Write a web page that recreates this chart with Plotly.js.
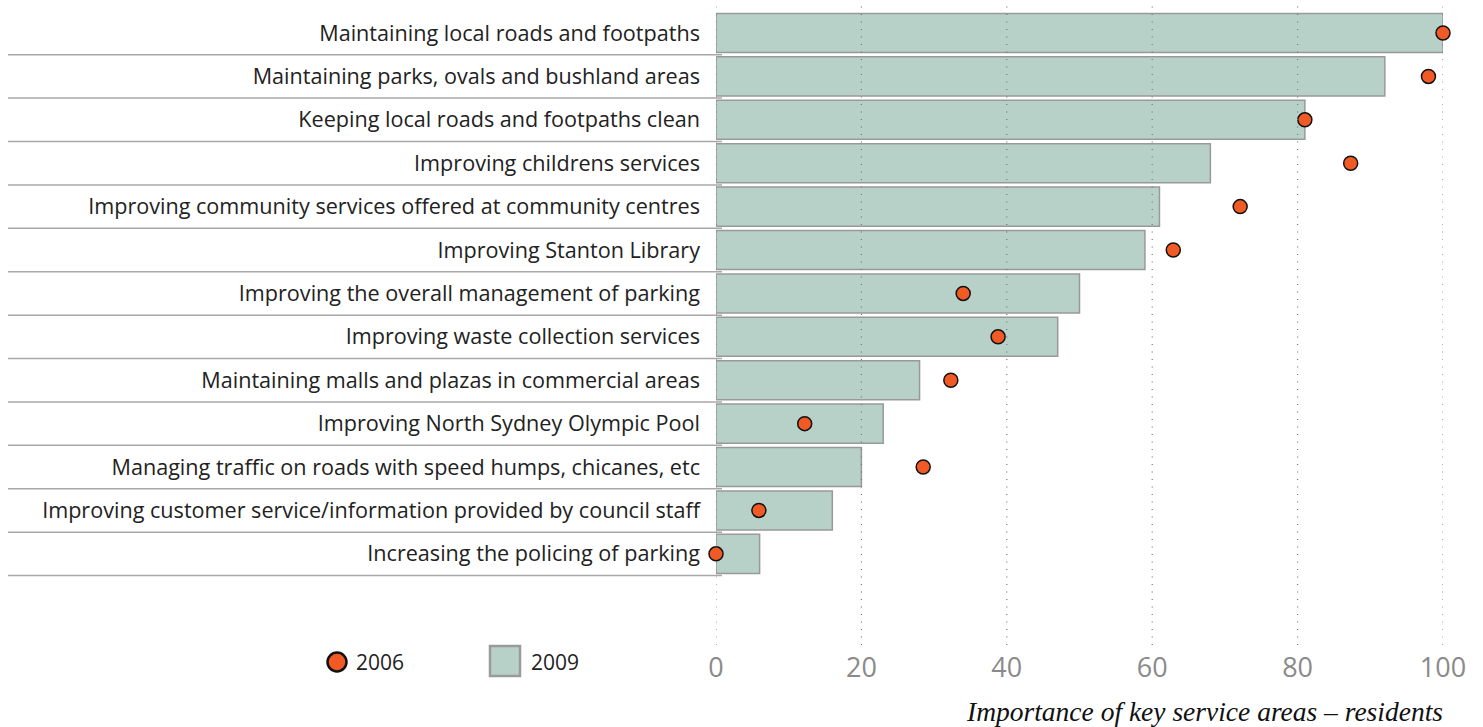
<!DOCTYPE html>
<html>
<head>
<meta charset="utf-8">
<script src="https://cdn.plot.ly/plotly-3.0.1.min.js"></script>
<style>html,body{margin:0;padding:0;background:#fff;}#chart{width:1483px;height:727px;}</style>
</head>
<body>
<div id="chart"></div>
<script>
const categories = [
  "Maintaining local roads and footpaths",
  "Maintaining parks, ovals and bushland areas",
  "Keeping local roads and footpaths clean",
  "Improving childrens services",
  "Improving community services offered at community centres",
  "Improving Stanton Library",
  "Improving the overall management of parking",
  "Improving waste collection services",
  "Maintaining malls and plazas in commercial areas",
  "Improving North Sydney Olympic Pool",
  "Managing traffic on roads with speed humps, chicanes, etc",
  "Improving customer service/information provided by council staff",
  "Increasing the policing of parking"
];
const values2009 = [100, 92, 81, 68, 61, 59, 50, 47, 28, 23, 20, 16, 6];
const values2006 = [100, 98, 81, 87.3, 72.1, 62.9, 34, 38.8, 32.3, 12.2, 28.5, 5.9, 0];
const xTicks = [0, 20, 40, 60, 80, 100];
const seriesNames = ["2006", "2009"];
const axisTitle = "Importance of key service areas \u2013 residents";

const rows = categories.map((c, i) => i);

const W = 1483, H = 727;
const M = {l: 716, r: 40, t: 6, b: 82};
const plotW = W - M.l - M.r, plotH = H - M.t - M.b;
const px2paperX = px => (px - M.l) / plotW;
const px2paperY = py => (H - M.b - py) / plotH;

const barColor = "#b7d1c8";
const dotColor = "#f15a24";

const traces = [
  {
    type: "bar", orientation: "h", name: seriesNames[1],
    x: values2009, y: rows, width: 0.9,
    marker: {color: barColor, line: {color: "#999999", width: 1.5}},
    showlegend: false, hoverinfo: "x+y"
  },
  {
    type: "scatter", mode: "markers", name: seriesNames[0],
    x: values2006, y: rows, cliponaxis: false,
    marker: {color: dotColor, size: 14, line: {color: "#111111", width: 1.5}},
    showlegend: false
  }
];

const shapes = [];
// dotted vertical gridlines
xTicks.forEach(t => shapes.push({
  type: "line", xref: "x", yref: "paper", x0: t, x1: t, y0: 0, y1: 1,
  line: {color: "#777777", width: 1.2, dash: "1px,6.5px"}, layer: "above"
}));
// row separators
rows.forEach(i => shapes.push({
  type: "line", xref: "paper", yref: "y",
  x0: px2paperX(8), x1: px2paperX(722), y0: i + 0.5, y1: i + 0.5,
  line: {color: "#a8a8a8", width: 1.5}, layer: "below"
}));
// legend symbols
shapes.push({
  type: "circle", xref: "paper", yref: "paper",
  x0: px2paperX(327.5), x1: px2paperX(346.5), y0: px2paperY(671.5), y1: px2paperY(652.5),
  fillcolor: dotColor, line: {color: "#111111", width: 2.5}
});
shapes.push({
  type: "rect", xref: "paper", yref: "paper",
  x0: px2paperX(490), x1: px2paperX(520), y0: px2paperY(676), y1: px2paperY(646),
  fillcolor: barColor, line: {color: "#9a9a9a", width: 2.5}
});

const annotations = [
  {xref: "paper", yref: "paper", x: px2paperX(354), y: px2paperY(662), xanchor: "left", yanchor: "middle",
   text: seriesNames[0], showarrow: false, font: {family: "Open Sans, sans-serif", size: 21, color: "#222"}},
  {xref: "paper", yref: "paper", x: px2paperX(529), y: px2paperY(662), xanchor: "left", yanchor: "middle",
   text: seriesNames[1], showarrow: false, font: {family: "Open Sans, sans-serif", size: 21, color: "#222"}},
  {xref: "paper", yref: "paper", x: px2paperX(1445), y: px2paperY(711), xanchor: "right", yanchor: "middle",
   text: "<i>" + axisTitle + "</i>", showarrow: false,
   font: {family: "Liberation Serif, DejaVu Serif, serif", size: 27.5, color: "#111"}}
];

const layout = {
  width: W, height: H,
  margin: M,
  paper_bgcolor: "#fff", plot_bgcolor: "#fff",
  showlegend: false,
  barmode: "overlay",
  xaxis: {
    range: [0, 100], tickvals: xTicks, ticktext: xTicks.map(String),
    showgrid: false, zeroline: false, showline: false, ticks: "",
    tickfont: {family: "Open Sans, sans-serif", size: 27, color: "#8a8a8a"},
    ticklabelstandoff: 4, fixedrange: true
  },
  yaxis: {
    range: [14.10, -0.622], tickvals: rows, ticktext: categories,
    showgrid: false, zeroline: false, showline: false, ticks: "",
    tickfont: {family: "Open Sans, sans-serif", size: 21.6, color: "#222"},
    ticklabelstandoff: 15, fixedrange: true
  },
  shapes: shapes,
  annotations: annotations
};

Plotly.newPlot("chart", traces, layout, {displayModeBar: false, staticPlot: true});
</script>
</body>
</html>
